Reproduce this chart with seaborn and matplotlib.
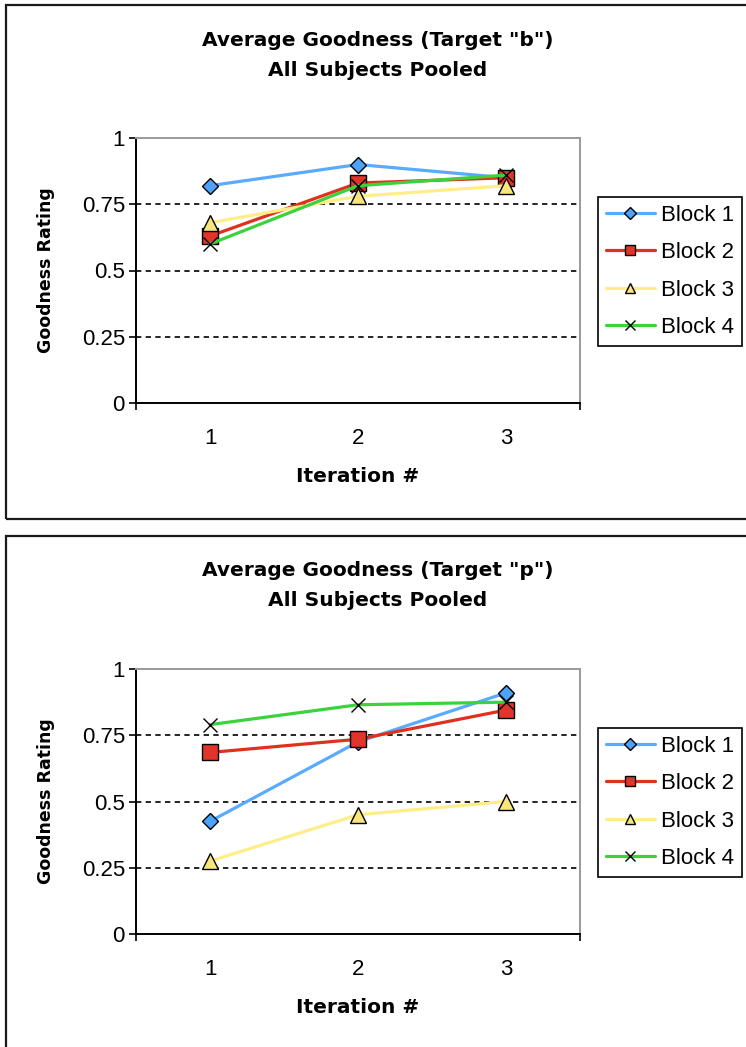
import matplotlib
matplotlib.use("Agg")
import matplotlib.pyplot as plt
from matplotlib.lines import Line2D
from matplotlib.patches import Rectangle
import numpy as np
import pandas as pd
import seaborn as sns

# ---- data ----
iterations = [1, 2, 3]
blocks = ["Block 1", "Block 2", "Block 3", "Block 4"]

b_block1 = [0.82, 0.90, 0.85]
b_block2 = [0.63, 0.83, 0.85]
b_block3 = [0.68, 0.78, 0.82]
b_block4 = [0.60, 0.82, 0.86]

p_block1 = [0.425, 0.725, 0.91]
p_block2 = [0.685, 0.735, 0.845]
p_block3 = [0.275, 0.45, 0.50]
p_block4 = [0.79, 0.865, 0.875]

titles = ['Average Goodness (Target "b")\nAll Subjects Pooled',
          'Average Goodness (Target "p")\nAll Subjects Pooled']
y_ticks = [0, 0.25, 0.5, 0.75, 1]
y_tick_labels = ["0", "0.25", "0.5", "0.75", "1"]
grid_levels = [0.25, 0.5, 0.75]

# ---- styling ----
palette = {"Block 1": "#5AAAFF", "Block 2": "#E0301E",
           "Block 3": "#FFEE88", "Block 4": "#3CD23C"}
marker_fill = {"Block 1": "#4DA3FA", "Block 2": "#E0352A",
               "Block 3": "#F8E57E", "Block 4": "black"}
markers = {"Block 1": "D", "Block 2": "s", "Block 3": "^", "Block 4": "x"}
msize = {"Block 1": 8.5, "Block 2": 11, "Block 3": 11, "Block 4": 10}

sns.set_style("white")
plt.rcParams["font.family"] = ["Liberation Sans", "DejaVu Sans"]
plt.rcParams["text.color"] = "black"
plt.rcParams["axes.labelcolor"] = "black"
plt.rcParams["xtick.color"] = "black"
plt.rcParams["ytick.color"] = "black"

W, H = 746, 1047
fig = plt.figure(figsize=(W / 100, H / 100), dpi=100)


def px_box(x0, y0, x1, y1):
    """Convert pixel box (top-left origin) to figure fraction rect."""
    return [x0 / W, 1 - y1 / H, (x1 - x0) / W, (y1 - y0) / H]


def long_frame(series):
    rows = []
    for name, vals in zip(blocks, series):
        for it, v in zip(iterations, vals):
            rows.append({"Iteration": it, "Rating": v, "Block": name})
    return pd.DataFrame(rows)


datasets = [
    long_frame([b_block1, b_block2, b_block3, b_block4]),
    long_frame([p_block1, p_block2, p_block3, p_block4]),
]

offsets = [0, 531]
title_font = dict(family="DejaVu Sans", weight="bold", size=14.5,
                  color="black")

for df, title, off in zip(datasets, titles, offsets):
    # outer chart frame
    fig.add_artist(Rectangle((6 / W, 1 - (519 + off) / H),
                             (760 - 6) / W, 514 / H,
                             transform=fig.transFigure, fill=False,
                             ec="#1a1a1a", lw=1.6, zorder=0))

    ax = fig.add_axes(px_box(136, 138 + off, 580, 403 + off))
    for name in blocks:
        sub = df[df["Block"] == name]
        sns.lineplot(data=sub, x="Iteration", y="Rating", ax=ax,
                     color=palette[name], linewidth=2.3,
                     marker=markers[name], markersize=msize[name],
                     markerfacecolor=marker_fill[name],
                     markeredgecolor="black",
                     markeredgewidth=1.0, legend=False, zorder=3)

    for lvl in grid_levels:
        ax.axhline(lvl, color="black", lw=1.2, ls=(0, (3.2, 2.6)), zorder=1)

    ax.set_xlim(0.5, 3.5)
    ax.set_ylim(0, 1)
    ax.set_xticks(iterations)
    ax.set_xticklabels([str(i) for i in iterations])
    ax.set_xticks([0.5, 3.5], minor=True)
    ax.set_yticks(y_ticks)
    ax.set_yticklabels(y_tick_labels)
    ax.tick_params(axis="x", which="major", length=0, pad=18, labelsize=16)
    ax.tick_params(axis="x", which="minor", length=5, width=1.2,
                   color="black", direction="out", bottom=True)
    ax.tick_params(axis="y", length=5, width=1.2, color="black",
                   direction="out", left=True, pad=3, labelsize=16)

    for side in ("left", "bottom"):
        ax.spines[side].set_color("black")
        ax.spines[side].set_linewidth(1.4)
    for side in ("top", "right"):
        ax.spines[side].set_color("#9a9a9a")
        ax.spines[side].set_linewidth(1.4)
        ax.spines[side].set_visible(True)

    ax.set_xlabel("Iteration #", fontdict=title_font)
    ax.set_ylabel("Goodness Rating", family="DejaVu Sans",
                  weight="bold", size=12.5, color="black")
    ax.yaxis.set_label_coords((55 - 136) / 444, 0.5)
    ax.xaxis.set_label_coords(0.5, -(467 - 403) / 265)

    # two-line heading
    l1, l2 = title.split("\n")
    fig.text(378 / W, 1 - (40 + off) / H, l1, ha="center", va="center",
             **title_font)
    fig.text(378 / W, 1 - (70 + off) / H, l2, ha="center", va="center",
             **title_font)

    handles = [Line2D([], [], color=palette[n], lw=2.3, marker=markers[n],
                      markersize=msize[n] * 0.7,
                      markerfacecolor=marker_fill[n],
                      markeredgecolor="black", markeredgewidth=1.0)
               for n in blocks]
    leg = fig.legend(handles, blocks, loc="upper left",
                     bbox_to_anchor=(598 / W, 1 - (197 + off) / H),
                     bbox_transform=fig.transFigure, borderaxespad=0,
                     frameon=True, fancybox=False, framealpha=1,
                     edgecolor="black", labelcolor="black",
                     prop={"family": "Liberation Sans", "size": 16},
                     handlelength=2.2, handletextpad=0.3,
                     labelspacing=0.74, borderpad=0.35)
    leg.get_frame().set_linewidth(1.2)

fig.savefig("out.png", dpi=100)
